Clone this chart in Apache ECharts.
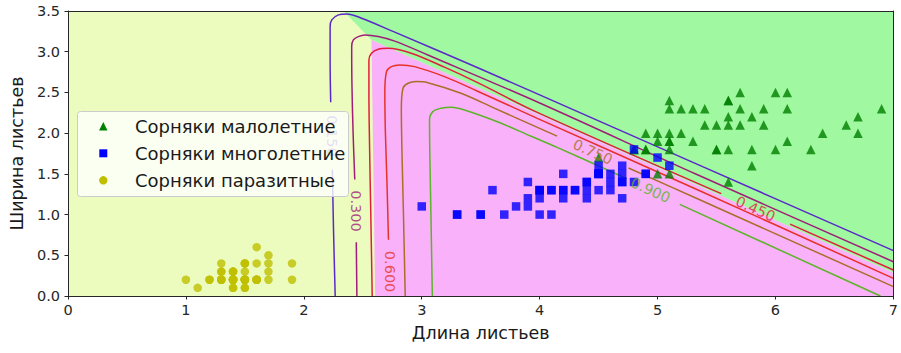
<!DOCTYPE html>
<html><head><meta charset="utf-8">
<script src="https://cdn.jsdelivr.net/npm/echarts@6/dist/echarts.min.js"></script>
<style>html,body{margin:0;padding:0;background:#fff}#chart{width:901px;height:353px}</style>
</head><body><div id="chart"></div>
<script>
// ---------- data ----------
const xTickValues = [0, 1, 2, 3, 4, 5, 6, 7];
const yTickValues = [0, 0.5, 1, 1.5, 2, 2.5, 3, 3.5];
const seriesNames = ['Сорняки малолетние', 'Сорняки многолетние', 'Сорняки паразитные'];

const virginicaLength = [6.0,5.1,5.9,5.6,5.8,6.6,4.5,6.3,5.8,6.1,5.1,5.3,5.5,5.0,5.1,5.3,5.5,6.7,6.9,5.0,5.7,4.9,6.7,4.9,5.7,6.0,4.8,4.9,5.6,5.8,6.1,6.4,5.6,5.1,5.6,6.1,5.6,5.5,4.8,5.4,5.6,5.1,5.1,5.9,5.7,5.2,5.0,5.2,5.4,5.1];
const virginicaWidth  = [2.5,1.9,2.1,1.8,2.2,2.1,1.7,1.8,1.8,2.5,2.0,1.9,2.1,2.0,2.4,2.3,1.8,2.2,2.3,1.5,2.3,2.0,2.0,1.8,2.1,1.8,1.8,1.8,2.1,1.6,1.9,2.0,2.2,1.5,1.4,2.3,2.4,1.8,1.8,2.1,2.4,2.3,1.9,2.3,2.5,2.3,1.9,2.0,2.3,1.8];
const versicolorLength = [4.7,4.5,4.9,4.0,4.6,4.5,4.7,3.3,4.6,3.9,3.5,4.2,4.0,4.7,3.6,4.4,4.5,4.1,4.5,3.9,4.8,4.0,4.9,4.7,4.3,4.4,4.8,5.0,4.5,3.5,3.8,3.7,3.9,5.1,4.5,4.5,4.7,4.4,4.1,4.0,4.4,4.6,4.0,3.3,4.2,4.2,4.2,4.3,3.0,4.1];
const versicolorWidth  = [1.4,1.5,1.5,1.3,1.5,1.3,1.6,1.0,1.3,1.4,1.0,1.5,1.0,1.4,1.3,1.4,1.5,1.0,1.5,1.1,1.8,1.3,1.5,1.2,1.3,1.4,1.4,1.7,1.5,1.0,1.1,1.0,1.2,1.6,1.5,1.6,1.5,1.3,1.3,1.3,1.2,1.4,1.2,1.0,1.3,1.2,1.3,1.3,1.1,1.3];
const setosaLength = [1.4,1.4,1.3,1.5,1.4,1.7,1.4,1.5,1.4,1.5,1.5,1.6,1.4,1.1,1.2,1.5,1.3,1.4,1.7,1.5,1.7,1.5,1.0,1.7,1.9,1.6,1.6,1.5,1.4,1.6,1.6,1.5,1.5,1.4,1.5,1.2,1.3,1.4,1.3,1.5,1.3,1.3,1.3,1.6,1.9,1.4,1.6,1.4,1.5,1.4];
const setosaWidth  = [0.2,0.2,0.2,0.2,0.2,0.4,0.3,0.2,0.2,0.1,0.2,0.2,0.1,0.1,0.2,0.4,0.4,0.3,0.3,0.3,0.2,0.4,0.2,0.5,0.2,0.2,0.4,0.2,0.2,0.2,0.2,0.4,0.1,0.2,0.2,0.2,0.2,0.1,0.2,0.2,0.3,0.3,0.2,0.6,0.4,0.3,0.2,0.2,0.2,0.2];

// decision regions (polygon vertices in data units)
const greenRegionX = [2.336, 7.0, 7.0, 2.574];
const greenRegionY = [3.5, 3.5, 0.285, 3.145];
const pinkRegionX  = [2.574, 7.0, 7.0, 2.605];
const pinkRegionY  = [3.145, 0.285, 0.0, 0.0];

// contour lines (null = gap for the inline label)
const level015X = [2.266,2.252,2.242,null,2.228,2.223,2.223,2.237,2.293,2.363,2.490,2.771,3.5,4.5,5.329,7.0];
const level015Y = [0.0,0.8,1.55,null,2.38,2.9,3.308,3.391,3.452,3.464,3.411,3.24,2.787,2.15,1.622,0.557];
const level030X = [2.45,2.445,null,2.432,2.418,2.408,2.406,2.420,2.462,2.519,2.631,2.771,3.052,4.0,5.329,7.0];
const level030Y = [0.0,0.66,null,1.43,2.0,2.6,3.063,3.145,3.186,3.206,3.186,3.13,2.96,2.37,1.495,0.421];
const level045X = [2.58,2.568,2.558,2.552,2.552,2.574,2.631,2.715,2.911,3.193,3.474,3.98,5.54,null,6.124,7.0];
const level045Y = [0.0,1.0,1.8,2.5,2.899,2.982,3.031,3.043,2.982,2.81,2.62,2.255,1.257,null,0.883,0.319];
const level060X = [2.718,2.705,2.692,2.687,2.701,2.743,2.814,2.940,3.193,3.474,3.98,5.329,7.0];
const level060Y = [0.69,1.4,2.0,2.5,2.756,2.817,2.838,2.817,2.694,2.515,2.182,1.311,0.217];
const level075X = [2.86,2.845,2.832,2.827,2.841,2.884,2.954,3.052,3.333,3.615,4.148,null,4.753,5.329,7.0];
const level075Y = [0.0,1.0,1.8,2.3,2.552,2.613,2.633,2.620,2.489,2.307,1.963,null,1.572,1.2,0.115];
const level090X = [3.09,3.078,3.068,3.066,3.094,3.164,3.249,3.362,3.642,3.923,4.148,4.739,null,5.188,6.89];
const level090Y = [0.0,1.0,1.8,2.162,2.264,2.306,2.318,2.285,2.14,1.965,1.826,1.44,null,1.125,0.0];

const contourLabelText = ['0.150','0.300','0.600','0.750','0.900','0.450'];
const contourLabelX = [2.236, 2.44, 2.728, 4.45, 4.94, 5.83];
const contourLabelY = [1.965, 1.045, 0.30, 1.77, 1.30, 1.07];

// ---------- styling ----------
const FONT = 'DejaVu Sans';
const levelColors = ['#5a28c8','#a01e78','#e01e3c','#e63228','#aa6e28','#5cb428'];
const labelColorIdx = [0,1,3,4,5,2];
const labelRotate = [-90,-90,-90,-24,-24,-24];
const markerColors = ['#008000', '#0000ff', '#bfbf00'];

function segments(xs, ys) {
  const out = []; let cur = [];
  xs.forEach((x, i) => {
    if (x === null) { if (cur.length) out.push(cur); cur = []; }
    else cur.push([x, ys[i]]);
  });
  if (cur.length) out.push(cur);
  return out;
}
function zip(xs, ys) { return xs.map((x, i) => [x, ys[i]]); }

const levels = [
  [level015X, level015Y], [level030X, level030Y], [level045X, level045Y],
  [level060X, level060Y], [level075X, level075Y], [level090X, level090Y]
];

const regions = [
  { x: greenRegionX, y: greenRegionY, color: '#a0f8a0' },
  { x: pinkRegionX, y: pinkRegionY, color: '#f9b1f9' }
];

const series = [];
series.push({
  type: 'custom', coordinateSystem: 'cartesian2d', z: 1, silent: true, clip: true,
  data: regions.map((r, i) => [i, 0]),
  renderItem: (params, api) => {
    const r = regions[params.dataIndex];
    const pts = r.x.map((x, i) => api.coord([x, r.y[i]]));
    return { type: 'polygon', shape: { points: pts }, style: { fill: r.color } };
  }
});
levels.forEach((lv, li) => {
  segments(lv[0], lv[1]).forEach(seg => {
    series.push({
      type: 'line', data: seg, z: 2, silent: true, symbol: 'none', showSymbol: false,
      smooth: 0.35, clip: true,
      lineStyle: { color: levelColors[li], width: 1.5 }
    });
  });
});
series.push({
  name: seriesNames[0], type: 'scatter', z: 3, symbol: 'triangle', symbolSize: 9.5,
  itemStyle: { color: markerColors[0] }, data: zip(virginicaLength, virginicaWidth)
});
series.push({
  name: seriesNames[1], type: 'scatter', z: 3, symbol: 'rect', symbolSize: 8.5,
  itemStyle: { color: markerColors[1] }, data: zip(versicolorLength, versicolorWidth)
});
series.push({
  name: seriesNames[2], type: 'scatter', z: 3, symbol: 'circle', symbolSize: 8.5,
  itemStyle: { color: markerColors[2] }, data: zip(setosaLength, setosaWidth)
});
series.push({
  type: 'scatter', z: 4, silent: true, symbolSize: 0,
  data: contourLabelText.map((t, i) => ({
    name: t, value: [contourLabelX[i], contourLabelY[i]],
    label: { rotate: labelRotate[i], color: levelColors[labelColorIdx[i]] }
  })),
  label: { show: true, position: 'inside', formatter: '{b}', fontFamily: FONT, fontSize: 14.5 }
});

// legend box drawn as graphic elements (matplotlib-style layout), on top of everything
const LZ = 200;
const legendBox = { x: 77.5, y: 111.5, w: 271, h: 85 };
const rowCenters = [126.3, 153.3, 180.3];
const iconX = 103.3, textX = 135, s = 4.2;
const legendElements = [{
  type: 'rect', z: LZ, silent: true,
  shape: { x: legendBox.x, y: legendBox.y, width: legendBox.w, height: legendBox.h, r: 3 },
  style: { fill: 'rgba(255,255,255,0.8)', stroke: '#cccccc', lineWidth: 1 }
}];
rowCenters.forEach((cy, i) => {
  let icon;
  if (i === 0) icon = { type: 'polygon', shape: { points: [[iconX, cy - s], [iconX + s, cy + s], [iconX - s, cy + s]] }, style: { fill: markerColors[0] } };
  else if (i === 1) icon = { type: 'rect', shape: { x: iconX - 4, y: cy - 4, width: 8, height: 8 }, style: { fill: markerColors[1] } };
  else icon = { type: 'circle', shape: { cx: iconX, cy: cy, r: 4.2 }, style: { fill: markerColors[2] } };
  icon.z = LZ + 1; icon.silent = true;
  legendElements.push(icon);
  legendElements.push({
    type: 'text', x: textX, y: cy, z: LZ + 1, silent: true,
    style: { text: seriesNames[i], font: '18px "DejaVu Sans"', fill: '#1a1a1a', verticalAlign: 'middle', align: 'left' }
  });
});

const axisColor = '#262626';
const option = {
  animation: false,
  backgroundColor: '#ffffff',
  grid: { left: 68, right: 3, top: 11, bottom: 57, show: true, backgroundColor: '#ebfcbe', borderWidth: 0 },
  graphic: { elements: legendElements },
  xAxis: [
    {
      type: 'value', min: xTickValues[0], max: xTickValues[xTickValues.length - 1], interval: 1, position: 'bottom', z: 5,
      name: 'Длина листьев', nameLocation: 'middle', nameGap: 28,
      nameTextStyle: { fontFamily: FONT, fontSize: 17.5, color: '#1a1a1a' },
      axisLine: { show: true, onZero: false, lineStyle: { color: axisColor, width: 1 } },
      axisTick: { show: true, length: 3.5, lineStyle: { color: axisColor, width: 1 } },
      axisLabel: { fontFamily: FONT, fontSize: 14.5, color: axisColor, margin: 6, showMinLabel: true, showMaxLabel: true,
        formatter: v => String(v) },
      splitLine: { show: false }
    },
    {
      type: 'value', min: 0, max: 7, position: 'top', z: 5,
      axisLine: { show: true, onZero: false, lineStyle: { color: axisColor, width: 1 } },
      axisTick: { show: false }, axisLabel: { show: false }, splitLine: { show: false }
    }
  ],
  yAxis: [
    {
      type: 'value', min: yTickValues[0], max: yTickValues[yTickValues.length - 1], interval: 0.5, position: 'left', z: 5,
      name: 'Ширина листьев', nameLocation: 'middle', nameGap: 38,
      nameTextStyle: { fontFamily: FONT, fontSize: 17.5, color: '#1a1a1a' },
      axisLine: { show: true, onZero: false, lineStyle: { color: axisColor, width: 1 } },
      axisTick: { show: true, length: 3.5, lineStyle: { color: axisColor, width: 1 } },
      axisLabel: { fontFamily: FONT, fontSize: 14.5, color: axisColor, margin: 8, showMinLabel: true, showMaxLabel: true,
        formatter: v => v.toFixed(1) },
      splitLine: { show: false }
    },
    {
      type: 'value', min: 0, max: 3.5, position: 'right', z: 5,
      axisLine: { show: true, onZero: false, lineStyle: { color: axisColor, width: 1 } },
      axisTick: { show: false }, axisLabel: { show: false }, splitLine: { show: false }
    }
  ],
  series: series
};
const chart = echarts.init(document.getElementById('chart'), null, { renderer: 'svg' });
chart.setOption(option);
</script></body></html>
